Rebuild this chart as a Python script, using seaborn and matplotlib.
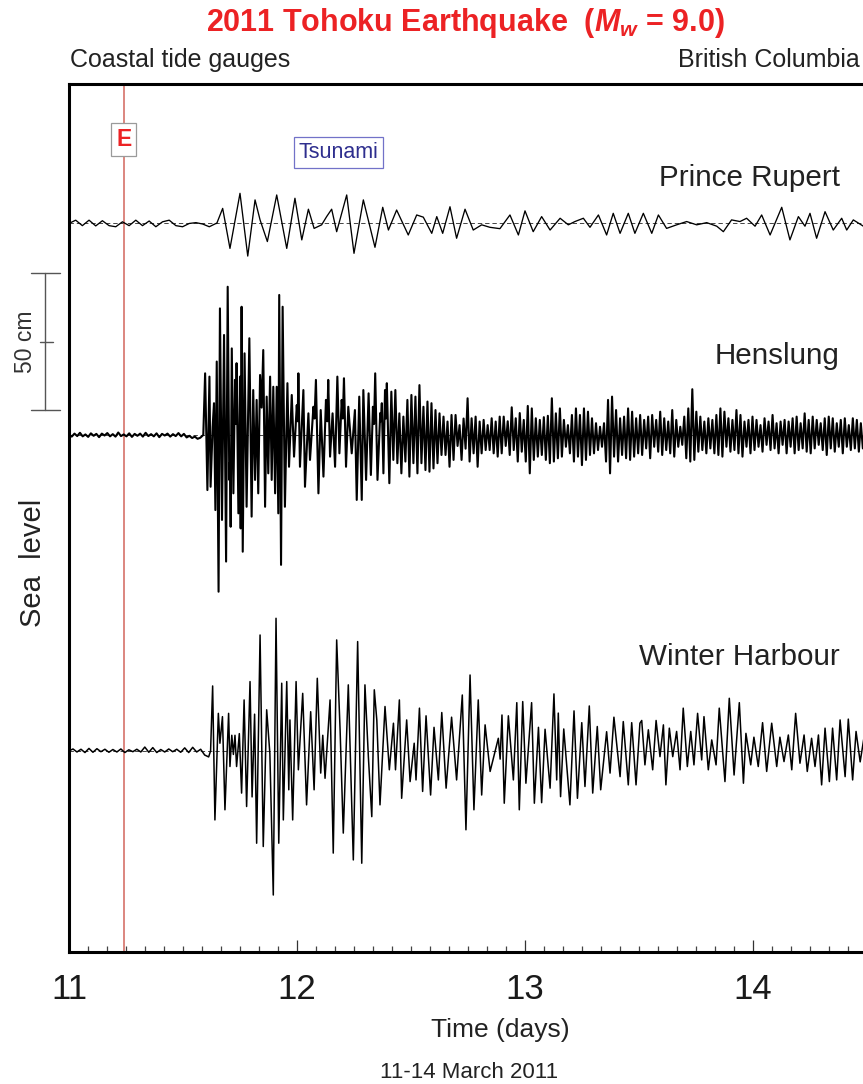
import matplotlib
matplotlib.use("Agg")
import numpy as np
import pandas as pd
import matplotlib.pyplot as plt
import matplotlib.transforms as mtransforms
from matplotlib.ticker import MultipleLocator, FixedLocator
from matplotlib import font_manager
import seaborn as sns

# ---------------------------------------------------------------------------
# Tide-gauge records, 11-14 March 2011 (time in days of March, UTC;
# de-tided sea level in cm)
# ---------------------------------------------------------------------------
QUAKE_DAY = 11.24

# Prince Rupert: background before the tsunami (regular samples)
PR_QUIET_START, PR_QUIET_STEP = 11.0, 0.0293
pr_quiet_cm = [0.0, 1.2, -0.8, 1.2, -0.9, 1.0, -0.8, -1.2, 0.6, -0.8, 1.2, -0.8,
               0.9, -1.2, 0.6, 1.2, -0.8, -1.2, 0.0, 0.3, -0.2, -1.2, 0.0]
# Prince Rupert: tsunami waves (day, cm)
pr_waves = [
    (11.648, 0.0), (11.674, 5.5), (11.706, -9.1), (11.750, 11.0), (11.784, -11.9),
    (11.816, 8.6), (11.838, 1.3), (11.870, -6.6), (11.911, 10.4), (11.955, -9.1),
    (11.991, 9.2), (12.021, -6.0), (12.050, 5.2), (12.075, -1.8), (12.108, -0.5),
    (12.130, 2.5), (12.152, 5.2), (12.174, -3.0), (12.218, 10.4), (12.250, -10.9),
    (12.291, 8.6), (12.342, -8.7), (12.376, 5.9), (12.401, -2.4), (12.437, 4.9),
    (12.488, -4.2), (12.525, 3.1), (12.554, 2.3), (12.591, -3.6), (12.613, 2.5),
    (12.639, -3.6), (12.671, 6.1), (12.700, -5.4), (12.737, 5.2), (12.773, -2.4),
    (12.810, -0.5), (12.846, -1.4), (12.890, -1.9), (12.934, 3.1), (12.971, -4.2),
    (13.000, 4.6), (13.036, -3.0), (13.073, 2.5), (13.110, -2.4), (13.154, 1.9),
    (13.190, -0.5), (13.219, 0.7), (13.256, 1.9), (13.285, -1.4), (13.322, 3.1),
    (13.358, -4.2), (13.387, 3.7), (13.417, -3.6), (13.453, 3.7), (13.482, -3.6),
    (13.519, 3.7), (13.556, -3.6), (13.585, 3.1), (13.621, -1.8), (13.665, -0.5),
    (13.709, 0.7), (13.753, -0.5), (13.797, 0.3), (13.841, -1.0), (13.870, -3.0),
    (13.906, 1.3), (13.943, 0.7), (13.972, 1.9), (14.009, -1.0), (14.038, 3.1),
    (14.075, -4.2), (14.126, 5.9), (14.162, -6.0), (14.199, 2.5), (14.228, -1.0),
    (14.250, 3.7), (14.279, -5.4), (14.316, 4.3), (14.352, -2.4), (14.389, 1.9),
    (14.411, -2.4), (14.440, 1.3), (14.484, -1.0),
]

# Henslung: background before the tsunami (regular samples)
HS_QUIET_START, HS_QUIET_STEP = 11.0, 0.012
hs_quiet_cm = [0.3, -0.6, 0.5, -0.4, 0.8, -0.5, 0.2, -0.7, 0.6, -0.3, 0.4, -0.8,
               0.5, -0.2, 0.7, -0.5, 0.3, -0.6, 0.9, -0.4, 0.2, -0.5, 0.6, -0.7,
               0.4, -0.3, 0.5, -0.6, 0.8, -0.4, 0.3, -0.5, 0.6, -0.8, 0.4, -0.2,
               0.5, -0.6, 0.3, -0.4, 0.7, -0.5, 0.4, -0.9, -0.3, -1.1, -0.6, -1.4,
               -1.0]
# Henslung: first tsunami arrivals (day, cm)
hs_waves = [
    (11.589, 0.0), (11.597, 22.5), (11.607, -20.1), (11.616, 21.3), (11.621, -18.9),
    (11.630, 3.0), (11.636, 11.6), (11.642, -27.4), (11.648, 26.8), (11.656, -57.2),
    (11.662, 46.2), (11.671, -31.0), (11.680, 36.5), (11.689, -46.2), (11.696, 54.1),
    (11.703, -16.4), (11.706, -10.0), (11.709, -33.5), (11.714, 31.6), (11.721, -21.3),
    (11.728, 20.1), (11.732, 4.0), (11.735, 26.2), (11.743, -28.6), (11.750, 21.3),
    (11.753, -34.1), (11.757, 46.8), (11.762, -42.6), (11.770, 29.8), (11.779, -26.2),
    (11.791, 35.3), (11.801, -29.8), (11.808, 16.4), (11.816, -16.4), (11.823, 12.8),
    (11.830, -21.3), (11.838, 21.9), (11.845, 10.0), (11.852, 31.0), (11.860, -26.2),
    (11.867, 14.0), (11.874, -14.0), (11.882, 21.3), (11.889, -16.4), (11.896, 17.6),
    (11.904, -21.3), (11.911, 17.6), (11.918, -28.6), (11.922, 51.1), (11.930, -47.4),
    (11.937, 46.8), (11.947, -26.2), (11.958, 18.9), (11.965, -11.6), (11.977, 14.6),
    (11.987, -7.9), (11.999, 10.9), (12.003, 5.0), (12.006, 22.5), (12.013, -11.6),
    (12.028, 16.4), (12.035, -18.9), (12.050, 7.9), (12.057, -9.1), (12.072, 10.3),
    (12.077, 6.0), (12.083, 20.1), (12.094, -21.3), (12.104, 9.1), (12.116, -15.2),
    (12.127, 12.8), (12.133, 5.0), (12.137, 20.1), (12.145, -7.9), (12.156, 7.9),
    (12.167, -11.6), (12.177, 21.3), (12.186, -6.7), (12.196, 12.8), (12.201, 6.0),
    (12.206, 20.7), (12.215, -11.6), (12.225, 10.3), (12.240, -6.7), (12.254, 9.1),
    (12.262, -23.7), (12.273, 14.0), (12.284, -23.7), (12.291, 16.4), (12.303, -16.4),
    (12.314, 15.2), (12.324, -14.6), (12.333, 10.3), (12.338, 4.0), (12.343, 22.5),
    (12.353, -16.4), (12.365, 8.0), (12.368, 5.0), (12.372, 11.6), (12.379, -14.0),
    (12.386, 16.4), (12.390, 6.0), (12.394, 18.9),
]
# Henslung: later wave train (regular samples)
HS_TAIL_START, HS_TAIL_STEP = 12.405, 0.0088
hs_tail_cm = [
    -17.6, 15.8, -9.1, 16.4, -10.3, 7.9, -14.0, 6.7, -9.7, 12.8,
    -15.2, 14.6, -10.3, 14.0, -14.0, 18.2, -10.3, 10.3, -12.8, 12.2,
    -13.4, 11.6, -12.2, 9.1, -10.3, 7.9, -7.3, 6.7, -7.3, 4.9,
    -11.6, 7.3, -9.1, 7.3, -4.0, 3.6, -9.1, 6.0, -5.0, 13.4,
    -9.7, 6.1, -6.7, 6.7, -11.6, 4.9, -6.7, 5.5, -5.5, 3.6,
    -5.5, 6.1, -6.7, 4.9, -7.9, 6.7, -6.7, 6.7, -4.0, 5.0,
    -7.3, 10.1, -5.5, 6.1, -9.7, 8.0, -6.1, 5.5, -9.7, 10.6,
    -14.0, 9.7, -9.1, 6.1, -7.9, 5.5, -7.3, 6.5, -9.1, 7.0,
    -10.3, 13.4, -9.7, 7.9, -8.5, 9.7, -7.9, 5.5, -4.3, 3.6,
    -6.7, 7.3, -9.7, 9.7, -7.9, 7.3, -11.0, 9.7, -9.1, 8.5,
    -7.3, 6.1, -6.7, 4.3, -5.5, 3.0, -4.3, 4.3, -9.7, 12.8,
    -14.0, 14.0, -7.9, 9.1, -9.7, 6.1, -7.3, 6.7, -8.5, 9.7,
    -9.1, 8.5, -7.9, 6.1, -6.7, 7.3, -7.3, 5.5, -4.9, 6.7,
    -8.5, 7.3, -4.3, 5.5, -6.1, 8.5, -7.3, 6.1, -5.5, 4.9,
    -6.7, 9.1, -7.9, 5.5, -4.3, 3.0, -3.6, 6.7, -8.5, 9.7,
    -9.7, 16.7, -9.1, 8.5, -6.1, 6.7, -5.5, 4.9, -6.7, 6.1,
    -4.9, 5.5, -6.7, 7.3, -7.3, 9.7, -7.9, 8.5, -4.3, 6.1,
    -6.1, 5.5, -5.5, 9.1, -6.7, 7.3, -7.9, 4.9, -4.3, 5.5,
    -6.7, 6.7, -5.5, 5.5, -4.3, 3.6, -6.1, 6.1, -3.6, 4.9,
    -5.5, 7.3, -4.9, 4.3, -6.7, 4.9, -3.6, 5.5, -6.7, 4.9,
    -4.3, 6.1, -6.7, 6.7, -5.5, 4.3, -4.9, 7.9, -6.1, 5.5,
    -6.7, 6.7, -4.9, 5.5, -3.6, 4.3, -5.5, 6.1, -7.3, 6.7,
    -4.9, 6.1, -6.1, 4.3, -4.3, 5.5, -6.7, 6.1, -4.3, 3.6,
    -5.5, 6.1, -4.9, 5.5, -6.1, 4.3, -4.9, 3.6, -4.3, 4.9,
]

# Winter Harbour: background before the tsunami (regular samples)
WH_QUIET_START, WH_QUIET_STEP = 11.0, 0.0175
wh_quiet_cm = [0.0, 0.7, -0.4, 0.6, -0.6, 0.9, -0.5, 0.8, -0.3, 0.6, -0.5, 0.5,
               -0.4, 0.7, -0.6, 0.4, -0.3, 0.6, -0.4, 1.4, -0.5, 1.2, -0.6, 0.5,
               -0.4, 0.7, -0.3, 0.6, -0.5, 1.1, -0.6, 1.3, -0.4, 0.6, -1.5, -2.2]
# Winter Harbour: tsunami waves (day, cm)
wh_waves = [
    (11.621, 0.0), (11.630, 23.7), (11.640, -25.2), (11.655, 13.7), (11.662, 2.8),
    (11.673, 12.5), (11.684, -21.5), (11.700, 13.7), (11.706, -5.7), (11.714, 5.7),
    (11.721, -1.3), (11.728, 5.7), (11.735, -5.7), (11.747, 6.3), (11.757, -15.4),
    (11.768, 18.6), (11.779, -20.3), (11.794, 25.3), (11.803, -16.8), (11.814, 13.4),
    (11.823, -33.7), (11.838, 42.3), (11.852, -34.9), (11.867, 15.0), (11.881, -1.0),
    (11.896, -52.6), (11.908, 48.4), (11.920, -33.7), (11.933, 24.7), (11.940, -25.2),
    (11.955, 25.3), (11.964, -14.2), (11.969, 11.3), (11.981, -25.2), (11.996, 25.3),
    (12.006, -6.9), (12.025, 21.0), (12.042, -19.7), (12.060, 14.3), (12.075, -14.2),
    (12.089, 26.5), (12.104, -8.1), (12.113, 5.7), (12.123, -10.0), (12.145, 18.6),
    (12.159, -37.3), (12.174, 40.5), (12.189, 7.7), (12.203, -30.0), (12.225, 24.1),
    (12.247, -39.8), (12.266, 39.9), (12.284, -41.0), (12.298, 24.1), (12.313, -2.1),
    (12.328, -24.0), (12.339, 22.3), (12.350, 11.3), (12.364, -19.7), (12.386, 16.2),
    (12.405, -6.9), (12.423, 10.1), (12.432, -6.9), (12.449, 18.6), (12.459, -17.3),
    (12.481, 11.3), (12.496, -11.2), (12.514, 2.8), (12.522, -10.6), (12.537, 15.6),
    (12.551, -14.8), (12.566, 12.8), (12.586, -16.1), (12.601, 8.6), (12.620, -10.6),
    (12.635, 14.0), (12.654, -13.6), (12.678, 12.3), (12.700, -10.6), (12.725, 20.4),
    (12.741, -28.8), (12.759, 27.7), (12.776, -21.5), (12.795, 18.6), (12.810, -16.1),
    (12.825, 9.5), (12.847, -7.5), (12.883, 4.6), (12.891, -3.0), (12.899, 13.1),
    (12.909, -19.1), (12.927, 12.8), (12.949, -10.6), (12.964, 17.6), (12.975, -21.5),
    (12.990, 18.0), (13.004, -11.8), (13.029, 17.6), (13.041, -19.1), (13.059, 8.6),
    (13.073, -18.9), (13.088, 7.9), (13.110, -13.6), (13.127, 20.8), (13.139, -10.6),
    (13.146, 13.8), (13.156, -16.7), (13.170, 8.0), (13.197, -19.7), (13.215, 14.6),
    (13.230, -17.3), (13.249, 10.3), (13.263, -13.0), (13.282, 16.4), (13.297, -15.4),
    (13.317, 8.9), (13.332, -14.2), (13.358, 7.0), (13.373, -8.1), (13.390, 12.3),
    (13.417, -9.4), (13.431, 10.7), (13.453, -12.4), (13.468, 10.3), (13.487, -12.4),
    (13.504, 10.1), (13.512, 11.1), (13.526, -5.1), (13.541, 7.7), (13.560, -6.9),
    (13.575, 11.1), (13.592, -2.1), (13.607, 9.5), (13.618, -12.4), (13.633, 8.3),
    (13.648, -2.1), (13.665, 7.1), (13.680, -6.9), (13.694, 15.6), (13.712, -5.7),
    (13.727, 7.1), (13.741, -5.1), (13.757, 13.7), (13.775, -3.3), (13.785, 12.5),
    (13.804, -6.9), (13.819, 4.0), (13.838, -5.1), (13.852, 15.6), (13.877, -11.2),
    (13.896, 19.2), (13.917, -8.8), (13.940, 17.6), (13.958, -11.8), (13.969, 6.4),
    (13.990, -5.1), (14.004, 5.0), (14.023, -5.7), (14.042, 10.3), (14.060, -7.5),
    (14.082, 10.1), (14.104, -5.7), (14.118, 5.0), (14.136, -3.9), (14.155, 5.8),
    (14.170, -6.9), (14.187, 13.7), (14.206, -4.5), (14.224, 5.8), (14.238, -7.5),
    (14.257, 4.6), (14.272, -5.7), (14.287, 5.8), (14.301, -12.4), (14.316, 8.3),
    (14.335, -11.2), (14.349, 8.3), (14.367, -10.6), (14.382, 11.3), (14.404, -9.4),
    (14.418, 11.6), (14.437, -10.6), (14.452, 7.1), (14.470, -4.0), (14.487, 5.0),
]

station_names = ["Prince Rupert", "Henslung", "Winter Harbour"]
day_ticks = [11, 12, 13, 14]


def regular(start, step, values):
    t = start + step * np.arange(len(values))
    return pd.DataFrame({"day": t, "cm": values})


def pairs(rows):
    return pd.DataFrame(rows, columns=["day", "cm"])


records = {
    "Prince Rupert": pd.concat([regular(PR_QUIET_START, PR_QUIET_STEP, pr_quiet_cm),
                                pairs(pr_waves)], ignore_index=True),
    "Henslung": pd.concat([regular(HS_QUIET_START, HS_QUIET_STEP, hs_quiet_cm),
                           pairs(hs_waves),
                           regular(HS_TAIL_START, HS_TAIL_STEP, hs_tail_cm)],
                          ignore_index=True),
    "Winter Harbour": pd.concat([regular(WH_QUIET_START, WH_QUIET_STEP, wh_quiet_cm),
                                 pairs(wh_waves)], ignore_index=True),
}

# ---------------------------------------------------------------------------
# Layout: the three records are stacked with a vertical offset (cm)
# ---------------------------------------------------------------------------
trace_offset = {"Prince Rupert": 265.9, "Henslung": 188.7, "Winter Harbour": 73.4}
trace_width = {"Prince Rupert": 0.95, "Henslung": 1.5, "Winter Harbour": 1.1}
label_y = {"Prince Rupert": 279.6, "Henslung": 214.6, "Winter Harbour": 104.7}
Y_TOP = 316.8
X_END = 11 + 794 / 228

sns.set_theme(style="white")
names = {f.name for f in font_manager.fontManager.ttflist}
NARROW = "Liberation Sans Narrow" if "Liberation Sans Narrow" in names else "Liberation Sans"
plt.rcParams["font.family"] = ["Liberation Sans", "DejaVu Sans"]
plt.rcParams["mathtext.fontset"] = "custom"
plt.rcParams["mathtext.rm"] = f"{NARROW}:bold"
plt.rcParams["mathtext.it"] = f"{NARROW}:italic:bold"
plt.rcParams["mathtext.bf"] = f"{NARROW}:bold"

fig = plt.figure(figsize=(8.63, 10.84), dpi=100)
ax = fig.add_axes([69 / 863, 1 - 952 / 1084, 794 / 863, 868 / 1084])
blend = mtransforms.blended_transform_factory(ax.transAxes, ax.transData)

for name in station_names:
    df = records[name].copy()
    df["level"] = df["cm"] + trace_offset[name]
    ax.axhline(trace_offset[name], color="#444444", lw=0.7,
               ls=(0, (4.5, 3)), zorder=1)
    sns.lineplot(data=df, x="day", y="level", ax=ax, color="black",
                 lw=trace_width[name], estimator=None, sort=False, zorder=3)
    ax.text(0.971, label_y[name], name, transform=blend, ha="right",
            va="baseline", fontsize=21.3, color="#222222")

# earthquake time marker
ax.axvline(QUAKE_DAY, color="#d2665c", lw=1.1, zorder=2)
ax.text(QUAKE_DAY, 296.4, "E", ha="center", va="center", fontsize=16.5,
        fontweight="bold", color="#ec2224", zorder=5,
        bbox=dict(boxstyle="square,pad=0.22", fc="white", ec="#9a9a9a", lw=0.9))
ax.text(12.182, 291.8, "Tsunami", ha="center", va="center", fontsize=15.5,
        color="#2e2e8e", zorder=5,
        bbox=dict(boxstyle="square,pad=0.22", fc="white", ec="#7272c8", lw=0.9))

ax.set_xlim(11, X_END)
ax.set_ylim(0, Y_TOP)
ax.set_xlabel("")
ax.set_ylabel("")
ax.set_yticks([])
ax.xaxis.set_major_locator(FixedLocator(day_ticks))
ax.xaxis.set_minor_locator(MultipleLocator(1 / 12))
ax.tick_params(axis="x", which="both", bottom=True, top=False)
ax.tick_params(axis="x", which="major", direction="in", length=8.5, width=0.9,
               color="#333333", labelsize=25, pad=15, labelcolor="#1a1a1a")
ax.tick_params(axis="x", which="minor", direction="in", length=4.3, width=0.9,
               color="#444444")
for side in ("left", "top", "bottom"):
    ax.spines[side].set_linewidth(2.2)
    ax.spines[side].set_color("black")
ax.spines["right"].set_visible(False)

# 50 cm scale bar left of the frame
bar_top, bar_bottom = 247.8, 197.8
bar_x = (45 - 69) / 794
ax.plot([bar_x, bar_x], [bar_bottom, bar_top], transform=blend, color="#555555",
        lw=1.0, clip_on=False)
for yy in (bar_bottom, bar_top):
    ax.plot([(31 - 69) / 794, (60 - 69) / 794], [yy, yy], transform=blend,
            color="#555555", lw=1.0, clip_on=False)
mid = (bar_top + bar_bottom) / 2
ax.plot([(40 - 69) / 794, (53 - 69) / 794], [mid, mid], transform=blend,
        color="#555555", lw=1.0, clip_on=False)
ax.text((25 - 69) / 794, mid, "50 cm", transform=blend, rotation=90,
        ha="center", va="center", fontsize=16.5, color="#333333")

# titles and axis annotations
fig.text(0.539, 0.9790, r"2011 Tohoku Earthquake  ($M_w$ = 9.0)",
         ha="center", va="center", color="#ec2224",
         fontsize=25 if NARROW != "Liberation Sans" else 22,
         fontweight="bold", family=[NARROW, "DejaVu Sans"])
fig.text(70 / 863, 0.9446, "Coastal tide gauges", ha="left", va="center",
         fontsize=18, color="#222222")
fig.text(860 / 863, 0.9446, "British Columbia", ha="right", va="center",
         fontsize=18, color="#222222")
fig.text(0.0382, 0.481, "Sea  level", rotation=90, ha="center", va="center",
         fontsize=21, color="#222222")
fig.text(500 / 863, 1 - 1030 / 1084, "Time (days)", ha="center", va="center",
         fontsize=19, color="#222222")
fig.text(469 / 863, 1 - 1072 / 1084, "11-14 March 2011", ha="center", va="center",
         fontsize=16, color="#222222")

fig.savefig("out.png", dpi=100)
